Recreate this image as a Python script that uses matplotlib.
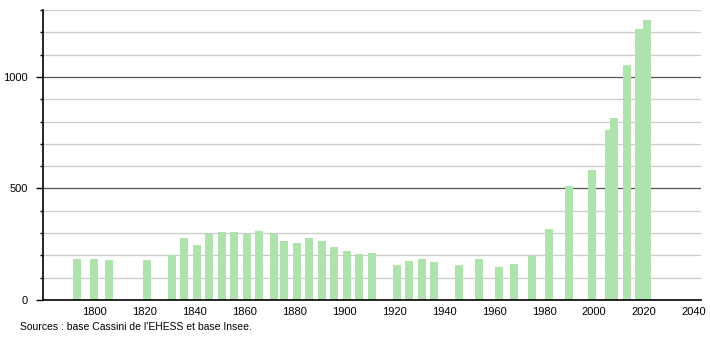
import numpy as np
import matplotlib.pyplot as plt
from matplotlib.ticker import MultipleLocator

# Census years and population
years = [1793, 1800, 1806, 1821, 1831, 1836, 1841, 1846, 1851, 1856, 1861,
         1866, 1872, 1876, 1881, 1886, 1891, 1896, 1901, 1906, 1911, 1921,
         1926, 1931, 1936, 1946, 1954, 1962, 1968, 1975, 1982, 1990, 1999,
         2006, 2008, 2013, 2018, 2021]
population = [185, 185, 180, 180, 200, 278, 248, 296, 303, 303, 296,
              311, 296, 263, 257, 279, 263, 239, 221, 207, 212, 156,
              176, 185, 171, 158, 185, 147, 162, 198, 320, 509, 581,
              761, 814, 1054, 1216, 1257]
x_ticks = list(range(1800, 2041, 20))
y_labels = [0, 500, 1000]
source = "Sources : base Cassini de l'EHESS et base Insee."

plt.rcParams['font.family'] = ['Liberation Sans', 'DejaVu Sans']

fig = plt.figure(figsize=(7.1, 3.4), dpi=100)
ax = fig.add_axes([43 / 710, 1 - 300 / 340, (701 - 43) / 710, 290 / 340])

# grid: light every 100, darker every 500
for v in range(100, 1301, 100):
    if v % 500 == 0:
        ax.axhline(v, color='#555555', lw=0.9, zorder=0)
    else:
        ax.axhline(v, color='#cccccc', lw=0.9, zorder=0)

ax.bar(years, population, width=3.3, color='#aee3ae', zorder=2)

ax.set_xlim(1779.5, 2042.7)
ax.set_ylim(0, 1300)

ax.set_xticks(x_ticks)
ax.set_xticklabels([str(t) for t in x_ticks], fontsize=8)
ax.tick_params(axis='x', length=0, pad=5)

ax.set_yticks(y_labels)
ax.set_yticklabels([str(t) for t in y_labels], fontsize=8)
ax.yaxis.set_minor_locator(MultipleLocator(100))
ax.tick_params(axis='y', which='major', length=5, width=1, pad=6)
ax.tick_params(axis='y', which='minor', length=2.5, width=1)

for s in ['top', 'right']:
    ax.spines[s].set_visible(False)
ax.spines['left'].set_linewidth(1.2)
ax.spines['bottom'].set_linewidth(1.2)

fig.text(20 / 710, 1 - 327 / 340, source, fontsize=7.5, va='center')

fig.savefig('out.png', dpi=100)
